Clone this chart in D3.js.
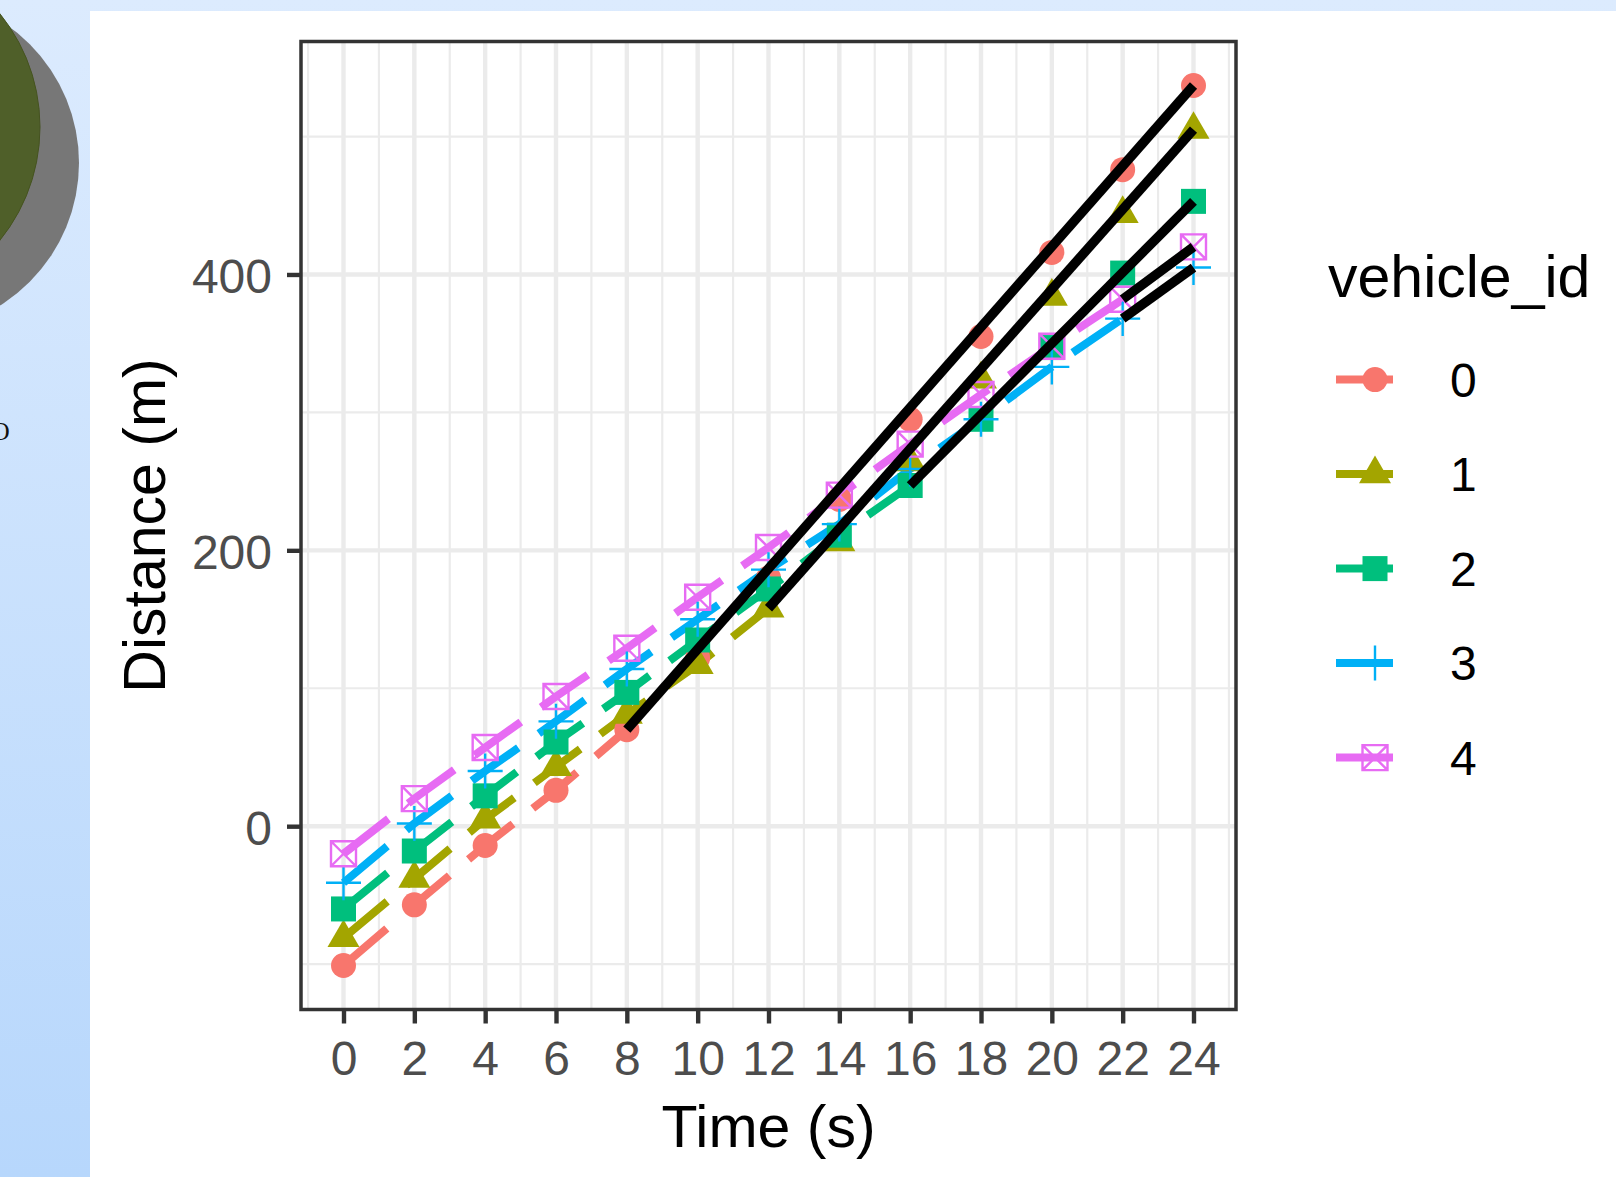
<!DOCTYPE html>
<html>
<head>
<meta charset="utf-8">
<script src="https://cdn.jsdelivr.net/npm/d3@7"></script>
<style>
  html, body { margin: 0; padding: 0; overflow: hidden; }
  svg { display: block; }
</style>
</head>
<body>
<script>
// time steps (s)
const times = [0, 2, 4, 6, 8, 10, 12, 14, 16, 18, 20, 22, 24];
const vehicleIds = ['0', '1', '2', '3', '4'];

// distance (m) of each vehicle
const vehicle0 = [-101, -57, -14, 26, 70, 122, 180, 237, 295, 355, 416, 476, 537];
const vehicle1 = [-81, -38, 5, 43, 81, 117, 158, 206, 264, 324, 384, 444, 505];
const vehicle2 = [-60, -18, 22, 61, 97, 135, 172, 211, 247, 295, 347, 401, 453];
const vehicle3 = [-41, 2, 40, 76, 114, 150, 186, 219, 259, 295, 333, 368, 405];
const vehicle4 = [-20, 20, 57, 94, 129, 166, 202, 240, 277, 313, 348, 382, 420];

// time where the black straight line takes over from the dashed track
const lineStart = [8, 12, 16, 22, 22];

const xTicks = [0, 2, 4, 6, 8, 10, 12, 14, 16, 18, 20, 22, 24];
const xMinor = [-1, 1, 3, 5, 7, 9, 11, 13, 15, 17, 19, 21, 23, 25];
const yTicks = [0, 200, 400];
const yMinor = [-100, 100, 300, 500];

const colors = ['#F8766D', '#A3A500', '#00BF7D', '#00B0F6', '#E76BF3'];
const font = '"Liberation Sans", Arial, sans-serif';

const series = [vehicle0, vehicle1, vehicle2, vehicle3, vehicle4].map((vals, i) => ({
  id: vehicleIds[i],
  color: colors[i],
  start: lineStart[i],
  points: vals.map((v, j) => ({ t: times[j], d: v }))
}));

const W = 1616, H = 1177;
const svg = d3.select('body').append('svg')
  .attr('width', W)
  .attr('height', H);

// page background around the picture
const defs = svg.append('defs');
const grad = defs.append('linearGradient')
  .attr('id', 'bg')
  .attr('x1', 0).attr('y1', 0).attr('x2', 0).attr('y2', 1);
grad.append('stop').attr('offset', '0%').attr('stop-color', '#dcebfe');
grad.append('stop').attr('offset', '100%').attr('stop-color', '#b7d7fc');
svg.append('rect').attr('width', W).attr('height', H).attr('fill', 'url(#bg)');

svg.append('circle').attr('cx', -89).attr('cy', 163).attr('r', 168).attr('fill', '#777777');
svg.append('circle').attr('cx', -140).attr('cy', 127).attr('r', 180)
  .attr('fill', '#4f5f29').attr('stroke', '#45531f').attr('stroke-width', 1);
svg.append('text').attr('x', -9).attr('y', 440)
  .attr('font-family', '"Liberation Serif", "DejaVu Serif", serif')
  .attr('font-size', 26).attr('fill', '#111').text('O');

svg.append('rect')
  .attr('x', 90).attr('y', 11)
  .attr('width', W - 90).attr('height', H - 11)
  .attr('fill', '#ffffff');

// panel
const panel = { left: 301, right: 1236, top: 41.5, bottom: 1009.5 };

const x = d3.scaleLinear()
  .domain([-1.2, 25.2])
  .range([panel.left, panel.right]);

const allVals = [].concat(vehicle0, vehicle1, vehicle2, vehicle3, vehicle4);
const [yMin, yMax] = d3.extent(allVals);
const pad = (yMax - yMin) * 0.05;
const y = d3.scaleLinear()
  .domain([yMin - pad, yMax + pad])
  .range([panel.bottom, panel.top]);

const grid = svg.append('g');
grid.selectAll('.vminor').data(xMinor).enter().append('line')
  .attr('x1', d => x(d)).attr('x2', d => x(d))
  .attr('y1', panel.top).attr('y2', panel.bottom)
  .attr('stroke', '#EBEBEB').attr('stroke-width', 2.2);
grid.selectAll('.hminor').data(yMinor).enter().append('line')
  .attr('y1', d => y(d)).attr('y2', d => y(d))
  .attr('x1', panel.left).attr('x2', panel.right)
  .attr('stroke', '#EBEBEB').attr('stroke-width', 2.2);
grid.selectAll('.vmajor').data(xTicks).enter().append('line')
  .attr('x1', d => x(d)).attr('x2', d => x(d))
  .attr('y1', panel.top).attr('y2', panel.bottom)
  .attr('stroke', '#EBEBEB').attr('stroke-width', 4.4);
grid.selectAll('.hmajor').data(yTicks).enter().append('line')
  .attr('y1', d => y(d)).attr('y2', d => y(d))
  .attr('x1', panel.left).attr('x2', panel.right)
  .attr('stroke', '#EBEBEB').attr('stroke-width', 4.4);

// dashed tracks up to where the black line starts
const line = d3.line().x(d => x(d.t)).y(d => y(d.d));
const dash = '57,25';

svg.append('g').selectAll('path')
  .data(series)
  .enter().append('path')
  .attr('d', s => line(s.points.filter(p => p.t <= s.start)))
  .attr('fill', 'none')
  .attr('stroke', s => s.color)
  .attr('stroke-width', 8)
  .attr('stroke-dasharray', dash);

function drawShape(g, i, color) {
  if (i === 0) {
    g.append('circle').attr('r', 12.5).attr('fill', color);
  } else if (i === 1) {
    g.append('path').attr('d', 'M0,-18.5L16,9.2L-16,9.2Z').attr('fill', color);
  } else if (i === 2) {
    g.append('rect').attr('x', -12.5).attr('y', -12.5).attr('width', 25).attr('height', 25).attr('fill', color);
  } else if (i === 3) {
    g.append('path').attr('d', 'M-17.5,0H17.5M0,-17.5V17.5')
      .attr('stroke', color).attr('stroke-width', 2.4).attr('fill', 'none');
  } else {
    g.append('path').attr('d', 'M-12.5,-12.5H12.5V12.5H-12.5ZM-12.5,-12.5L12.5,12.5M12.5,-12.5L-12.5,12.5')
      .attr('stroke', color).attr('stroke-width', 2.4).attr('fill', 'none');
  }
}

const pts = svg.append('g');
series.forEach((s, i) => {
  s.points.forEach(p => {
    const g = pts.append('g').attr('transform', `translate(${x(p.t)},${y(p.d)})`);
    drawShape(g, i, s.color);
  });
});

// black straight lines from the start time to the last time
svg.append('g').selectAll('path')
  .data(series)
  .enter().append('path')
  .attr('d', s => {
    const a = s.points.find(p => p.t === s.start);
    const b = s.points[s.points.length - 1];
    return line([a, b]);
  })
  .attr('fill', 'none')
  .attr('stroke', '#000000')
  .attr('stroke-width', 9.5);

// border
svg.append('rect')
  .attr('x', panel.left).attr('y', panel.top)
  .attr('width', panel.right - panel.left).attr('height', panel.bottom - panel.top)
  .attr('fill', 'none').attr('stroke', '#333333').attr('stroke-width', 3.5);

// axes
const xAxis = svg.append('g')
  .attr('transform', `translate(0,${panel.bottom})`)
  .call(d3.axisBottom(x).tickValues(xTicks).tickSize(14).tickPadding(17));
const yAxis = svg.append('g')
  .attr('transform', `translate(${panel.left},0)`)
  .call(d3.axisLeft(y).tickValues(yTicks).tickSize(14).tickPadding(15));

[xAxis, yAxis].forEach(a => {
  a.select('.domain').remove();
  a.selectAll('.tick line').attr('stroke', '#333333').attr('stroke-width', 4.4);
  a.selectAll('.tick text')
    .attr('fill', '#4D4D4D')
    .attr('font-family', font)
    .attr('font-size', 48);
});
yAxis.selectAll('.tick text').attr('dy', '0.38em');

svg.append('text')
  .attr('x', (panel.left + panel.right) / 2)
  .attr('y', 1147)
  .attr('text-anchor', 'middle')
  .attr('font-family', font)
  .attr('font-size', 59)
  .attr('fill', '#000')
  .text('Time (s)');

svg.append('text')
  .attr('transform', `translate(165,${(panel.top + panel.bottom) / 2}) rotate(-90)`)
  .attr('text-anchor', 'middle')
  .attr('font-family', font)
  .attr('font-size', 59)
  .attr('fill', '#000')
  .text('Distance (m)');

// legend
const legend = svg.append('g');
legend.append('text')
  .attr('x', 1328).attr('y', 297)
  .attr('font-family', font)
  .attr('font-size', 59)
  .attr('fill', '#000')
  .text('vehicle_id');

series.forEach((s, i) => {
  const cy = 379.6 + i * 94.5;
  legend.append('line')
    .attr('x1', 1336).attr('x2', 1414)
    .attr('y1', cy).attr('y2', cy)
    .attr('stroke', s.color).attr('stroke-width', 8)
    .attr('stroke-dasharray', dash);
  const g = legend.append('g').attr('transform', `translate(1375,${cy})`);
  drawShape(g, i, s.color);
  legend.append('text')
    .attr('x', 1450).attr('y', cy)
    .attr('dy', '0.36em')
    .attr('font-family', font)
    .attr('font-size', 48)
    .attr('fill', '#000')
    .text(s.id);
});
</script>
</body>
</html>
